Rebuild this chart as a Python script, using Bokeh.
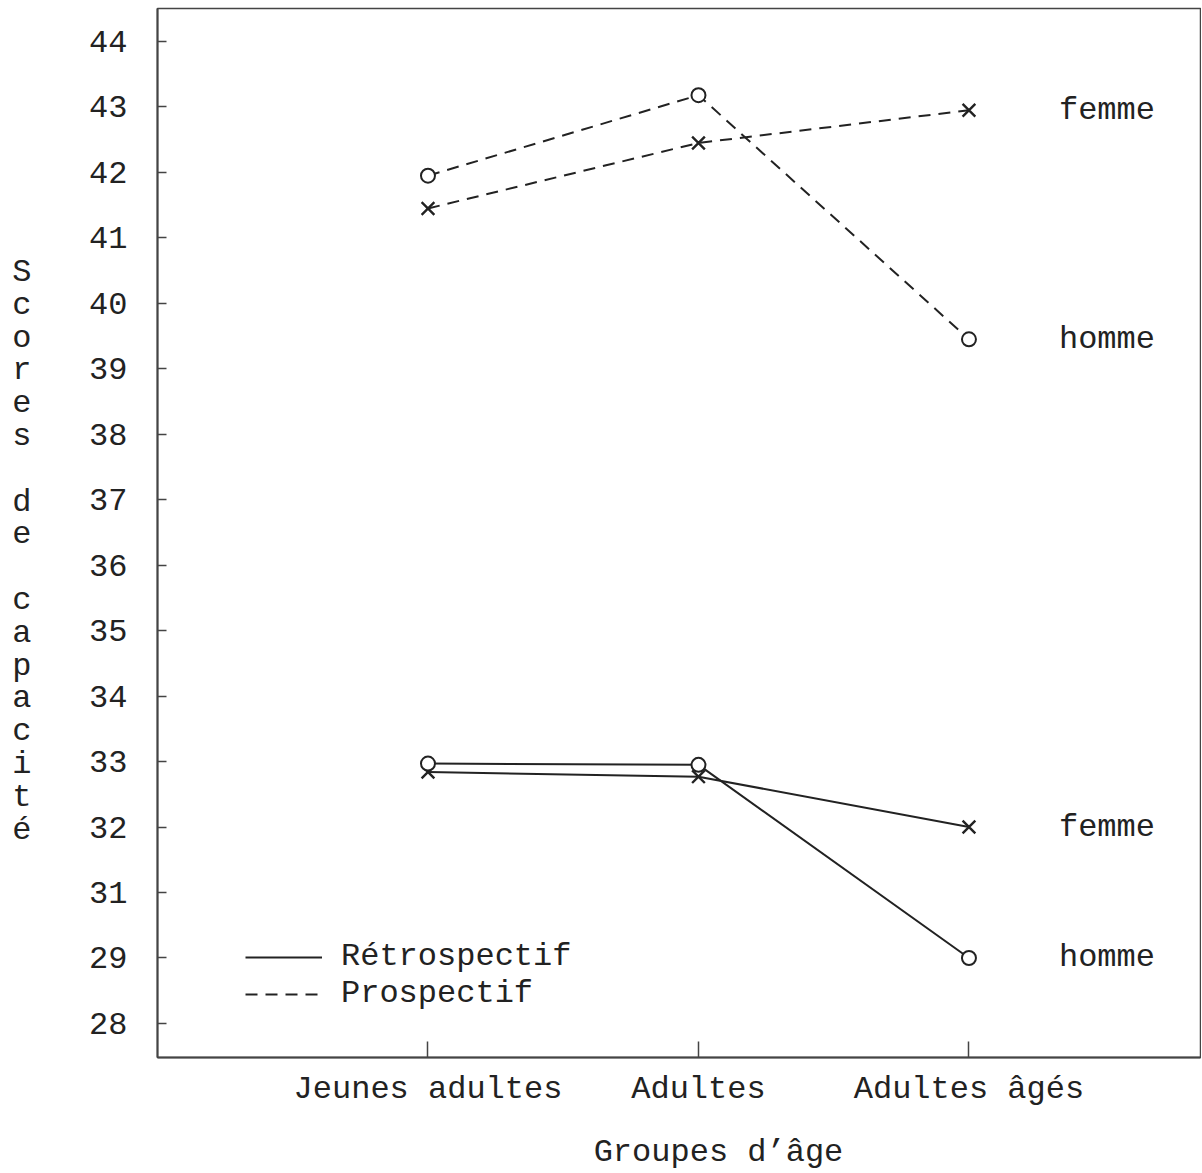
from bokeh.plotting import figure
from bokeh.models import FixedTicker, Range1d, Legend, LegendItem, LinearAxis
from bokeh.core.properties import value
from bokeh.embed import file_html
from bokeh.resources import INLINE

# ---- data ----
groups = ["Jeunes adultes", "Adultes", "Adultes âgés"]
prosp_homme = [41.95, 43.18, 39.45]
prosp_femme = [41.45, 42.45, 42.95]
retro_homme = [32.97, 32.95, 29.0]
retro_femme = [32.84, 32.77, 32.0]
y_tick_values = [28, 29, 31, 32, 33, 34, 35, 36, 37, 38, 39, 40, 41, 42, 43, 44]
end_labels = ["femme", "homme"]
legend_labels = ["Rétrospectif", "Prospectif"]
x_title = "Groupes d\u2019âge"
y_title = "Scores de capacité"


def axis_pos(v):
    # the original axis skips the value 30 (broken axis)
    return v + 1 if v < 30 else v


FONT = "Liberation Mono"
FS = "32px"
INK = "#222222"
AX = "#444444"

xs = list(range(1, len(groups) + 1))

p = figure(width=1201, height=1173,
           x_range=Range1d(0, 3.856), y_range=Range1d(28.48, 44.504),
           output_backend="svg", toolbar_location=None,
           min_border_left=157, min_border_top=8, min_border_right=1,
           min_border_bottom=116)
p.grid.visible = False
p.outline_line_color = AX
p.outline_line_width = 1.5
p.background_fill_color = "white"
p.border_fill_color = "white"

# x axis
p.xaxis.ticker = FixedTicker(ticks=xs)
p.xaxis.major_label_overrides = {x: g for x, g in zip(xs, groups)}
p.xaxis.major_tick_in = 16
p.xaxis.major_tick_out = 0
p.xaxis.major_label_standoff = 13

# x-axis title (placed slightly right of centre, as in the original)
x_title_pos = 2.074
x_title_axis = LinearAxis(ticker=FixedTicker(ticks=[x_title_pos]),
                          major_label_overrides={x_title_pos: x_title},
                          axis_line_color=None, major_tick_line_color=None,
                          minor_tick_line_color=None, major_label_standoff=17,
                          major_label_text_font=FONT, major_label_text_font_size=FS,
                          major_label_text_color=INK)
p.add_layout(x_title_axis, "below")

# y axis
yt = [axis_pos(v) for v in y_tick_values]
p.yaxis.ticker = FixedTicker(ticks=yt)
p.yaxis.major_label_overrides = {axis_pos(v): str(v) for v in y_tick_values}
p.yaxis.major_tick_in = 9
p.yaxis.major_tick_out = 0
p.yaxis.major_label_standoff = 30

# stacked (one character per line) y-axis title, drawn as an outer axis
title_top, title_step = 40.471, 0.501
title_pos = [title_top - title_step * i for i in range(len(y_title))]
title_axis = LinearAxis(ticker=FixedTicker(ticks=title_pos),
                        major_label_overrides={pos: ch for pos, ch in zip(title_pos, y_title)},
                        axis_line_color=None, major_tick_line_color=None,
                        minor_tick_line_color=None, major_label_standoff=49,
                        major_label_text_font=FONT, major_label_text_font_size=FS,
                        major_label_text_color=INK)
p.add_layout(title_axis, "left")

for ax in (p.xaxis[0], p.yaxis[0]):
    ax.minor_tick_line_color = None
    ax.axis_line_color = AX
    ax.axis_line_width = 2
    ax.major_tick_line_color = AX
    ax.major_tick_line_width = 1.5
    ax.major_label_text_font = FONT
    ax.major_label_text_font_size = FS
    ax.major_label_text_color = INK

DASH = "12 8"

def series(vals, dash, marker):
    yv = [axis_pos(v) for v in vals]
    r = p.line(xs, yv, line_color=INK, line_width=2, line_dash=dash)
    if marker == "circle":
        p.scatter(xs, yv, marker="circle", size=14, fill_color="white",
                  line_color=INK, line_width=2)
    else:
        p.scatter(xs, yv, marker="x", size=18, line_color=INK, line_width=2.4)
    return r

r_pf = series(prosp_femme, DASH, "x")
r_ph = series(prosp_homme, DASH, "circle")
r_rf = series(retro_femme, "solid", "x")
r_rh = series(retro_homme, "solid", "circle")

# end labels
lab_y = [axis_pos(prosp_femme[-1]), axis_pos(prosp_homme[-1]),
         axis_pos(retro_femme[-1]), axis_pos(retro_homme[-1])]
lab_t = [end_labels[0], end_labels[1], end_labels[0], end_labels[1]]
p.text(x=[xs[-1]] * 4, y=lab_y, text=lab_t, x_offset=90,
       text_baseline="middle", text_align="left",
       text_font=value(FONT), text_font_size=FS, text_color=INK)

legend = Legend(items=[LegendItem(label=legend_labels[0], renderers=[r_rh]),
                       LegendItem(label=legend_labels[1], renderers=[r_ph])],
                location=(88, 45))
legend.glyph_width = 77
legend.glyph_height = 32
legend.label_height = 32
legend.label_standoff = 19
legend.spacing = -5
legend.padding = 0
legend.margin = 0
legend.border_line_color = None
legend.background_fill_alpha = 0
legend.label_text_font = FONT
legend.label_text_font_size = FS
legend.label_text_color = INK
p.add_layout(legend)

open("out.html", "w").write(file_html(p, INLINE))
